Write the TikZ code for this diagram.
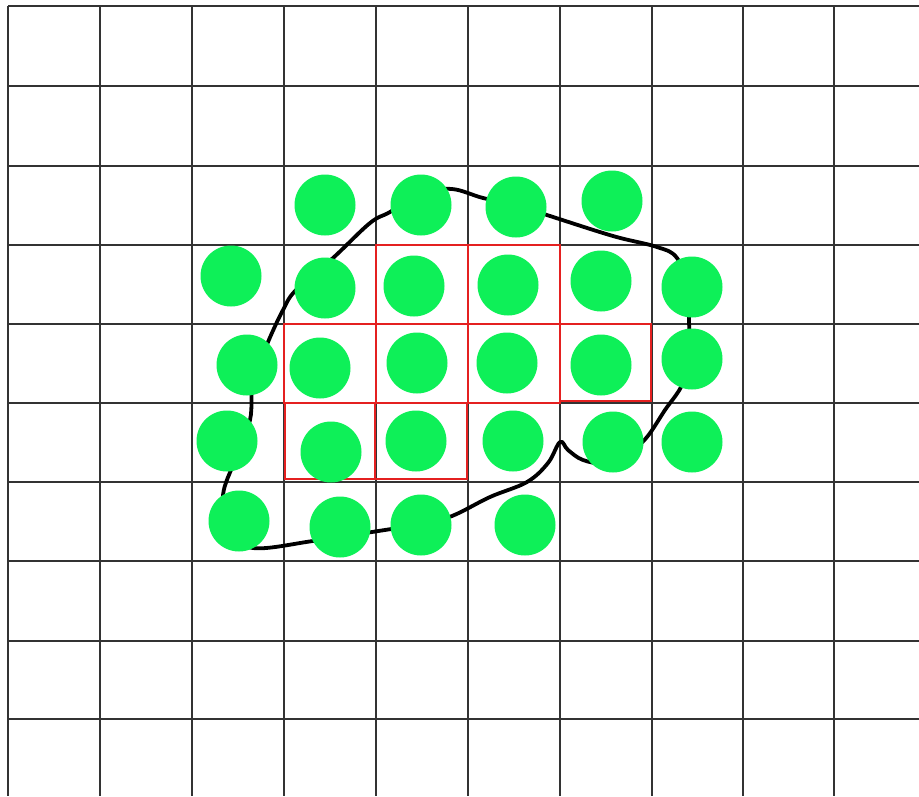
\documentclass[tikz,border=0pt]{standalone}
\definecolor{dotgreen}{RGB}{14,240,88}
\definecolor{sqred}{RGB}{228,32,32}
\tikzset{
  gridline/.style={line width=1.6pt, draw=black!80},
  redsq/.style={line width=2.4pt, draw=sqred},
  blob/.style={line width=3.8pt, draw=black, line join=round},
  dot/.style={fill=dotgreen}
}
\begin{document}
\begin{tikzpicture}[x=1pt,y=-1pt]
\useasboundingbox (0,0) rectangle (919,796);
\fill[white] (0,0) rectangle (919,796);
% grid
\foreach \x in {8,100,192,284,376,468,560,652,743,834}
  \draw[gridline] (\x,6) -- (\x,796);
\foreach \y in {6,86,166,245,324,403,482,561,641,719}
  \draw[gridline] (8,\y) -- (919,\y);
% red squares
\draw[redsq] (376,245) rectangle (468,324);
\draw[redsq] (468,245) rectangle (560,324);
\draw[redsq] (284,324) rectangle (376,403);
\draw[redsq] (376,324) rectangle (468,403);
\draw[redsq] (468,324) rectangle (560,403);
\draw[redsq] (560,324) rectangle (651,401);
\draw[redsq] (285,403) rectangle (375,479);
\draw[redsq] (375,403) rectangle (467,479);
% black closed curve
\draw[blob] plot[smooth cycle, tension=0.6] coordinates {
 (253,548) (313,541) (372,532) (421,524) (452,516) (490,497) (527,482)
 (548,463) (560,442) (568,450) (583,460) (605,463) (630,452) (647,437)
 (665,410) (682,385) (690,355) (689,320) (690,290) (677,258) (657,247)
 (613,236) (550,216) (516,205) (483,198) (452,189) (421,193) (390,212)
 (370,223) (333,258) (296,290) (283,310) (268,342) (253,380) (250,420)
 (235,460) (223,495) (228,530)};
% green dots
\foreach \p in {(325,205),(421,205),(516,207),(612,201),
                (231,276),(325,288),(414,286),(508,285),(601,281),(692,287),
                (247,365),(320,368),(417,363),(507,363),(601,365),(692,359),
                (227,441),(331,452),(416,441),(513,441),(613,442),(692,442),
                (239,521),(340,527),(421,525),(525,525)}
  \fill[dot] \p circle (30.5);
\end{tikzpicture}
\end{document}
